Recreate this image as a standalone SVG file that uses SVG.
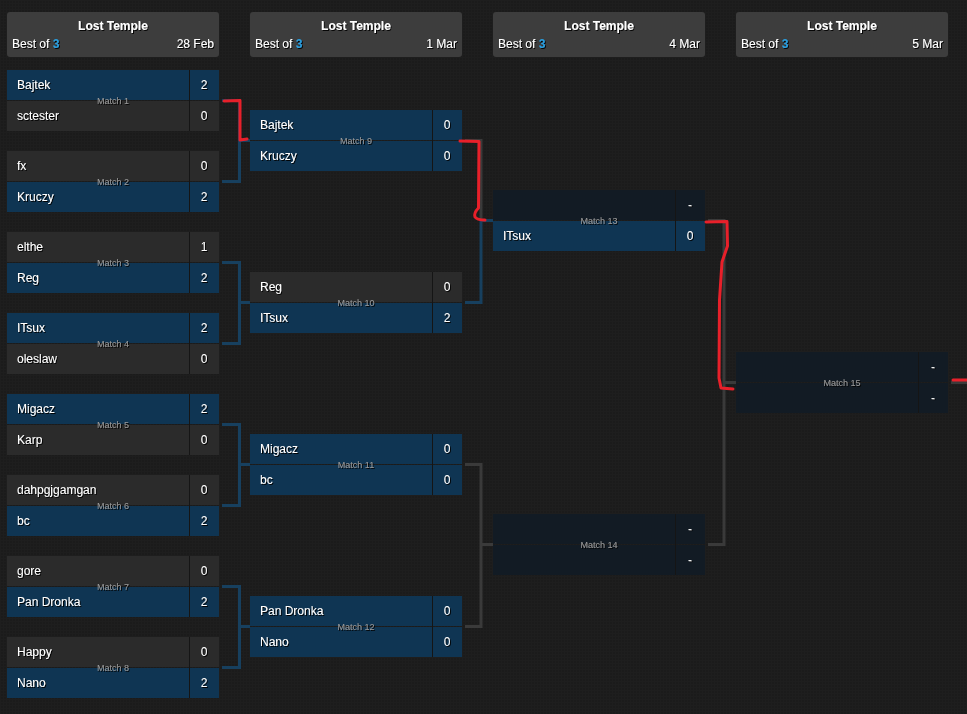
<svg xmlns="http://www.w3.org/2000/svg" width="967" height="714" viewBox="0 0 967 714">
<style>
text{font-family:"Liberation Sans",Arial,sans-serif;filter:url(#sh);}
.hd{fill:#3d3d3d;}
.ttl{font-size:12px;font-weight:bold;fill:#fff;text-anchor:middle;}
.sub{font-size:12px;fill:#fff;}
.bo{fill:#2a9fe0;font-weight:bold;}
.dt{font-size:12px;fill:#fff;text-anchor:end;}
.win{fill:#0f3553;}
.los{fill:#2b2b2b;}
.tbd{fill:#121b24;}
.sep{stroke:#151515;stroke-width:1;}
.nm{font-size:12px;fill:#fff;}
.sc{font-size:12px;fill:#fff;text-anchor:middle;}
.ml{font-size:9px;fill:#9a9a9a;text-anchor:middle;}
.cb{fill:none;stroke:#17405f;stroke-width:3;}
.cg{fill:none;stroke:#3a3a3a;stroke-width:3;}
.red{fill:none;stroke:#e8202a;stroke-width:3;stroke-linecap:round;stroke-linejoin:round;}
</style>
<defs>
<filter id="sh" x="-10%" y="-10%" width="130%" height="140%">
<feDropShadow dx="1" dy="1" stdDeviation="0" flood-color="#000" flood-opacity="0.9"/>
</filter>
<pattern id="grid" width="3" height="3" patternUnits="userSpaceOnUse">
<rect width="3" height="3" fill="#1b1b1b"/>
<path d="M0 0.5H3M0.5 0V3" stroke="#1e1e1e" stroke-width="1"/>
</pattern>
</defs>
<rect width="967" height="714" fill="url(#grid)"/>

<g id="headers">
<g id="h1"><rect class="hd" x="7" y="12" width="212" height="45" rx="3"/><text class="ttl" x="113" y="30">Lost Temple</text><text class="sub" x="12" y="48">Best of <tspan class="bo">3</tspan></text><text class="dt" x="214" y="48">28 Feb</text></g>
<g id="h2"><rect class="hd" x="250" y="12" width="212" height="45" rx="3"/><text class="ttl" x="356" y="30">Lost Temple</text><text class="sub" x="255" y="48">Best of <tspan class="bo">3</tspan></text><text class="dt" x="457" y="48">1 Mar</text></g>
<g id="h3"><rect class="hd" x="493" y="12" width="212" height="45" rx="3"/><text class="ttl" x="599" y="30">Lost Temple</text><text class="sub" x="498" y="48">Best of <tspan class="bo">3</tspan></text><text class="dt" x="700" y="48">4 Mar</text></g>
<g id="h4"><rect class="hd" x="736" y="12" width="212" height="45" rx="3"/><text class="ttl" x="842" y="30">Lost Temple</text><text class="sub" x="741" y="48">Best of <tspan class="bo">3</tspan></text><text class="dt" x="943" y="48">5 Mar</text></g>
</g>

<g id="connectors">
<path class="cb" d="M222 100.5H239.5V181.5H222M239.5 140.5H250"/>
<path class="cb" d="M222 262.5H239.5V343.5H222M239.5 302.5H250"/>
<path class="cb" d="M222 424.5H239.5V505.5H222M239.5 464.5H250"/>
<path class="cb" d="M222 586.5H239.5V667.5H222M239.5 626.5H250"/>
<path class="cg" d="M465 140.5H481V220.5"/>
<path class="cb" d="M481 220.5V302.5H465M481 220.5H493"/>
<path class="cg" d="M465 464.5H481V626.5H465M481 544.5H493"/>
<path class="cg" d="M708 220.5H724V544.5H708M724 382.5H736"/>
<path class="cg" d="M951 382.5H967"/>
</g>

<g id="matches">
<g id="m1"><rect class="win" x="7" y="70" width="212" height="30"/><rect class="los" x="7" y="101" width="212" height="30"/><path class="sep" d="M189.5 70V131"/><text class="nm" x="17" y="89">Bajtek</text><text class="sc" x="204" y="89">2</text><text class="nm" x="17" y="120">sctester</text><text class="sc" x="204" y="120">0</text><text class="ml" x="113" y="104">Match 1</text></g>
<g id="m2"><rect class="los" x="7" y="151" width="212" height="30"/><rect class="win" x="7" y="182" width="212" height="30"/><path class="sep" d="M189.5 151V212"/><text class="nm" x="17" y="170">fx</text><text class="sc" x="204" y="170">0</text><text class="nm" x="17" y="201">Kruczy</text><text class="sc" x="204" y="201">2</text><text class="ml" x="113" y="185">Match 2</text></g>
<g id="m3"><rect class="los" x="7" y="232" width="212" height="30"/><rect class="win" x="7" y="263" width="212" height="30"/><path class="sep" d="M189.5 232V293"/><text class="nm" x="17" y="251">elthe</text><text class="sc" x="204" y="251">1</text><text class="nm" x="17" y="282">Reg</text><text class="sc" x="204" y="282">2</text><text class="ml" x="113" y="266">Match 3</text></g>
<g id="m4"><rect class="win" x="7" y="313" width="212" height="30"/><rect class="los" x="7" y="344" width="212" height="30"/><path class="sep" d="M189.5 313V374"/><text class="nm" x="17" y="332">ITsux</text><text class="sc" x="204" y="332">2</text><text class="nm" x="17" y="363">oleslaw</text><text class="sc" x="204" y="363">0</text><text class="ml" x="113" y="347">Match 4</text></g>
<g id="m5"><rect class="win" x="7" y="394" width="212" height="30"/><rect class="los" x="7" y="425" width="212" height="30"/><path class="sep" d="M189.5 394V455"/><text class="nm" x="17" y="413">Migacz</text><text class="sc" x="204" y="413">2</text><text class="nm" x="17" y="444">Karp</text><text class="sc" x="204" y="444">0</text><text class="ml" x="113" y="428">Match 5</text></g>
<g id="m6"><rect class="los" x="7" y="475" width="212" height="30"/><rect class="win" x="7" y="506" width="212" height="30"/><path class="sep" d="M189.5 475V536"/><text class="nm" x="17" y="494">dahpgjgamgan</text><text class="sc" x="204" y="494">0</text><text class="nm" x="17" y="525">bc</text><text class="sc" x="204" y="525">2</text><text class="ml" x="113" y="509">Match 6</text></g>
<g id="m7"><rect class="los" x="7" y="556" width="212" height="30"/><rect class="win" x="7" y="587" width="212" height="30"/><path class="sep" d="M189.5 556V617"/><text class="nm" x="17" y="575">gore</text><text class="sc" x="204" y="575">0</text><text class="nm" x="17" y="606">Pan Dronka</text><text class="sc" x="204" y="606">2</text><text class="ml" x="113" y="590">Match 7</text></g>
<g id="m8"><rect class="los" x="7" y="637" width="212" height="30"/><rect class="win" x="7" y="668" width="212" height="30"/><path class="sep" d="M189.5 637V698"/><text class="nm" x="17" y="656">Happy</text><text class="sc" x="204" y="656">0</text><text class="nm" x="17" y="687">Nano</text><text class="sc" x="204" y="687">2</text><text class="ml" x="113" y="671">Match 8</text></g>

<g id="m9"><rect class="win" x="250" y="110" width="212" height="30"/><rect class="win" x="250" y="141" width="212" height="30"/><path class="sep" d="M432.5 110V171"/><text class="nm" x="260" y="129">Bajtek</text><text class="sc" x="447" y="129">0</text><text class="nm" x="260" y="160">Kruczy</text><text class="sc" x="447" y="160">0</text><text class="ml" x="356" y="144">Match 9</text></g>
<g id="m10"><rect class="los" x="250" y="272" width="212" height="30"/><rect class="win" x="250" y="303" width="212" height="30"/><path class="sep" d="M432.5 272V333"/><text class="nm" x="260" y="291">Reg</text><text class="sc" x="447" y="291">0</text><text class="nm" x="260" y="322">ITsux</text><text class="sc" x="447" y="322">2</text><text class="ml" x="356" y="306">Match 10</text></g>
<g id="m11"><rect class="win" x="250" y="434" width="212" height="30"/><rect class="win" x="250" y="465" width="212" height="30"/><path class="sep" d="M432.5 434V495"/><text class="nm" x="260" y="453">Migacz</text><text class="sc" x="447" y="453">0</text><text class="nm" x="260" y="484">bc</text><text class="sc" x="447" y="484">0</text><text class="ml" x="356" y="468">Match 11</text></g>
<g id="m12"><rect class="win" x="250" y="596" width="212" height="30"/><rect class="win" x="250" y="627" width="212" height="30"/><path class="sep" d="M432.5 596V657"/><text class="nm" x="260" y="615">Pan Dronka</text><text class="sc" x="447" y="615">0</text><text class="nm" x="260" y="646">Nano</text><text class="sc" x="447" y="646">0</text><text class="ml" x="356" y="630">Match 12</text></g>

<g id="m13"><rect class="tbd" x="493" y="190" width="212" height="30"/><rect class="win" x="493" y="221" width="212" height="30"/><path class="sep" d="M675.5 190V251"/><text class="sc" x="690" y="209">-</text><text class="nm" x="503" y="240">ITsux</text><text class="sc" x="690" y="240">0</text><text class="ml" x="599" y="224">Match 13</text></g>
<g id="m14"><rect class="tbd" x="493" y="514" width="212" height="30"/><rect class="tbd" x="493" y="545" width="212" height="30"/><path class="sep" d="M675.5 514V575"/><text class="sc" x="690" y="533">-</text><text class="sc" x="690" y="564">-</text><text class="ml" x="599" y="548">Match 14</text></g>
<g id="m15"><rect class="tbd" x="736" y="352" width="212" height="30"/><rect class="tbd" x="736" y="383" width="212" height="30"/><path class="sep" d="M918.5 352V413"/><text class="sc" x="933" y="371">-</text><text class="sc" x="933" y="402">-</text><text class="ml" x="842" y="386">Match 15</text></g>
</g>

<g id="annotations">
<path class="red" d="M224 101L240 100.5L240 140L247 139"/>
<path class="red" d="M460 141L479 141.5L478.5 208Q473.5 213 475 217Q477 220 485 220"/>
<path class="red" d="M706 222L727 221.5L727.5 246L722 262L719.5 300L719 378L721 388L733 389"/>
<path class="red" d="M953 380H967"/>
</g>
</svg>
